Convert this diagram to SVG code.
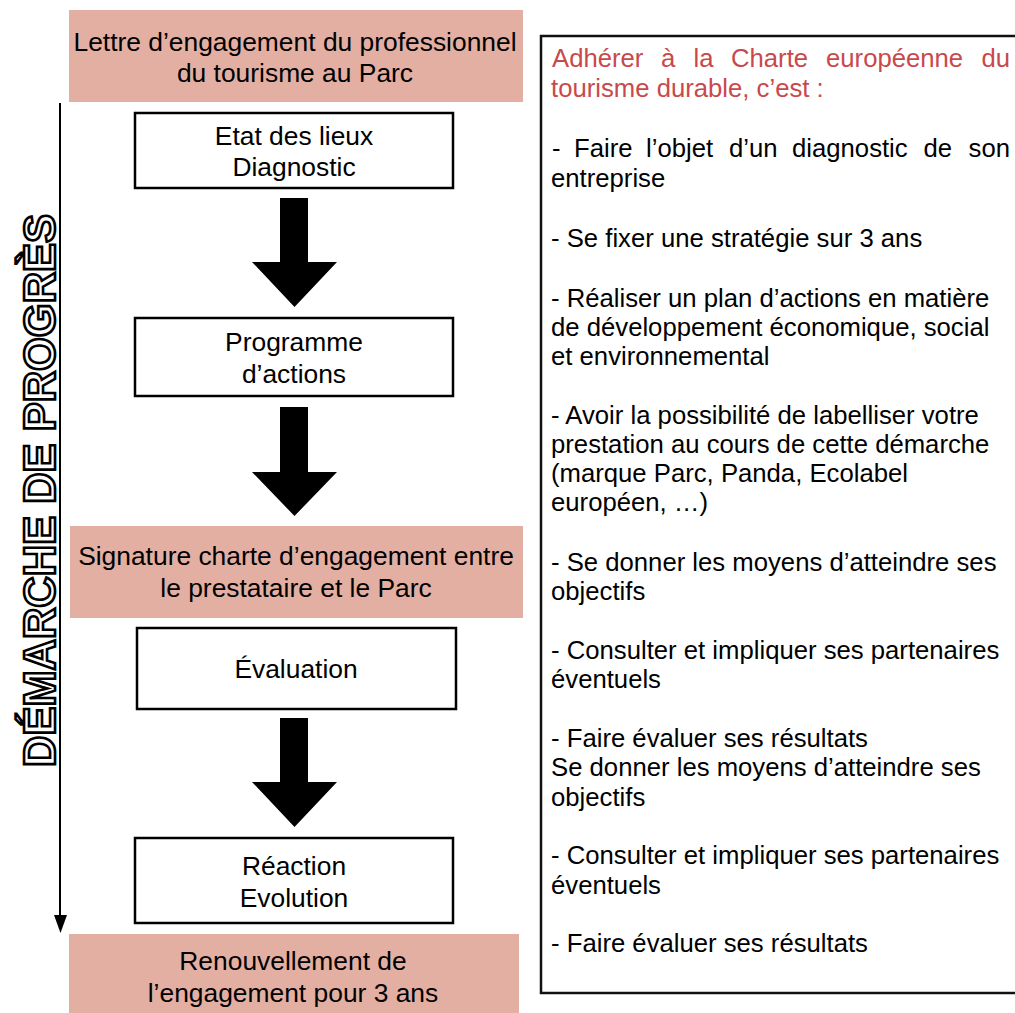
<svg xmlns="http://www.w3.org/2000/svg" width="1015" height="1013" viewBox="0 0 1015 1013">
<style>
.pink{fill:#e4afa3;stroke:none}
.box{fill:#fff;stroke:#000;stroke-width:2.5}
.lt{font-family:"Liberation Sans",Arial,Helvetica,sans-serif;font-size:26.4px;fill:#000;text-anchor:middle}
.rt{font-family:"Liberation Sans",Arial,Helvetica,sans-serif;font-size:25.7px;fill:#000}
.red{fill:#c9494b}
.big{fill:#000;stroke:none}
.vt{font-family:"Liberation Sans",Arial,sans-serif;font-weight:bold;font-size:44px;fill:#fff;stroke:#000;stroke-width:2.6px;stroke-linejoin:miter}
</style>
<rect width="1015" height="1013" fill="#fff"/>

<g id="n-lettre">
<rect class="pink" x="69" y="10" width="454" height="92"/>
<text class="lt" x="295" y="51">Lettre d’engagement du professionnel</text>
<text class="lt" x="295" y="82">du tourisme au Parc</text>
</g>

<g id="n-etat">
<rect class="box" x="135" y="113" width="318" height="75"/>
<text class="lt" x="294" y="145">Etat des lieux</text>
<text class="lt" x="294" y="176">Diagnostic</text>
</g>

<g id="n-programme">
<rect class="box" x="135" y="318" width="318" height="78"/>
<text class="lt" x="294" y="351">Programme</text>
<text class="lt" x="294" y="383">d’actions</text>
</g>

<g id="n-signature">
<rect class="pink" x="70" y="526" width="453" height="92"/>
<text class="lt" x="296" y="565">Signature charte d’engagement entre</text>
<text class="lt" x="296" y="597">le prestataire et le Parc</text>
</g>

<g id="n-evaluation">
<rect class="box" x="137" y="628" width="319" height="81"/>
<text class="lt" x="296" y="678">Évaluation</text>
</g>

<g id="n-reaction">
<rect class="box" x="135" y="838" width="318" height="85"/>
<text class="lt" x="294" y="875">Réaction</text>
<text class="lt" x="294" y="907">Evolution</text>
</g>

<g id="n-renouvellement">
<rect class="pink" x="69" y="934" width="450" height="79"/>
<text class="lt" x="293" y="970">Renouvellement de</text>
<text class="lt" x="293" y="1002">l’engagement pour 3 ans</text>
</g>

<g id="connectors">
<polygon class="big" points="280,198 308,198 308,262 337,262 294.5,307 252,262 280,262"/>
<polygon class="big" points="280,407 308,407 308,472 337,472 294.5,516 252,472 280,472"/>
<polygon class="big" points="280,718 308,718 308,782 337,782 294.5,827 252,782 280,782"/>
<line x1="60" y1="103" x2="60" y2="916" stroke="#000" stroke-width="2"/>
<polygon class="big" points="54,915 67,915 60.5,933"/>
</g>

<g id="label-demarche">
<text class="vt" transform="translate(55,490.5) rotate(-90)" x="0" y="0" text-anchor="middle" textLength="553" lengthAdjust="spacingAndGlyphs">DÉMARCHE DE PROGRÈS</text>
</g>

<g id="n-charte">
<rect x="541" y="36" width="490" height="957" fill="#fff" stroke="#111" stroke-width="2.5"/>
<text class="rt red" y="67"><tspan x="552">Adhérer</tspan><tspan x="661">à</tspan><tspan x="693.5">la</tspan><tspan x="731">Charte</tspan><tspan x="826">européenne</tspan></text>
<text class="rt red" y="67" x="1010" text-anchor="end">du</text>
<text class="rt red" x="551" y="96.5">tourisme durable, c’est :</text>
<text class="rt" y="157"><tspan x="552">-</tspan><tspan x="574">Faire</tspan><tspan x="646">l’objet</tspan><tspan x="729">d’un</tspan><tspan x="792">diagnostic</tspan><tspan x="923.5">de</tspan></text>
<text class="rt" y="157" x="1010" text-anchor="end">son</text>
<text class="rt" x="551" y="187">entreprise</text>
<text class="rt" x="551" y="247">- Se fixer une stratégie sur 3 ans</text>
<text class="rt" x="551" y="307">- Réaliser un plan d’actions en matière</text>
<text class="rt" x="551" y="336">de développement économique, social</text>
<text class="rt" x="551" y="365">et environnemental</text>
<text class="rt" x="551" y="424">- Avoir la possibilité de labelliser votre</text>
<text class="rt" x="551" y="453">prestation au cours de cette démarche</text>
<text class="rt" x="551" y="482">(marque Parc, Panda, Ecolabel</text>
<text class="rt" x="551" y="511">européen, …)</text>
<text class="rt" x="551" y="571">- Se donner les moyens d’atteindre ses</text>
<text class="rt" x="551" y="600">objectifs</text>
<text class="rt" x="551" y="659">- Consulter et impliquer ses partenaires</text>
<text class="rt" x="551" y="688">éventuels</text>
<text class="rt" x="551" y="747">- Faire évaluer ses résultats</text>
<text class="rt" x="551" y="776">Se donner les moyens d’atteindre ses</text>
<text class="rt" x="551" y="805.5">objectifs</text>
<text class="rt" x="551" y="864">- Consulter et impliquer ses partenaires</text>
<text class="rt" x="551" y="893.5">éventuels</text>
<text class="rt" x="551" y="952">- Faire évaluer ses résultats</text>
</g>
</svg>
